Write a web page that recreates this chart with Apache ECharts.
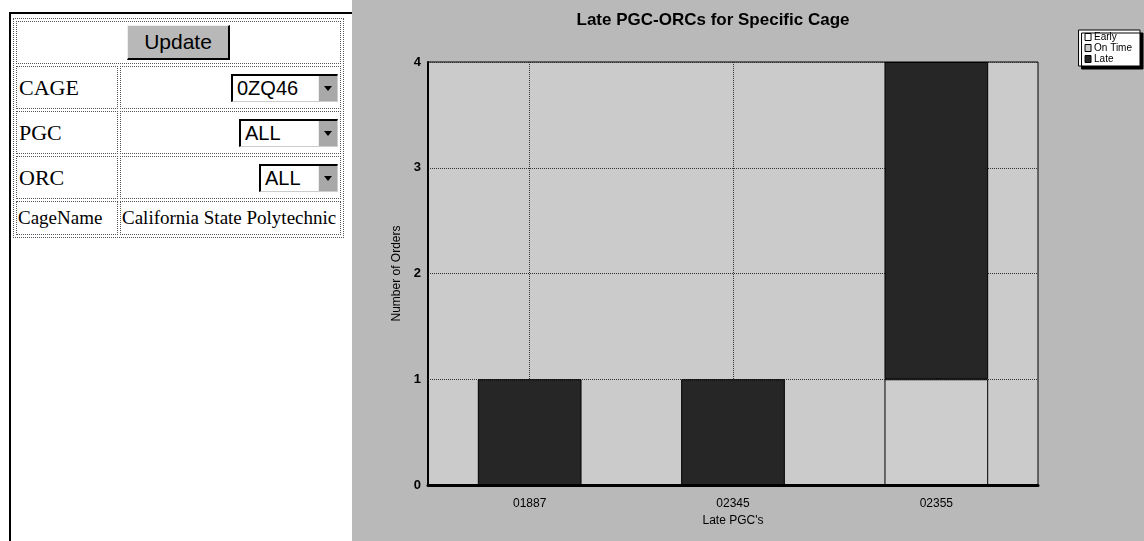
<!DOCTYPE html>
<html><head><meta charset="utf-8">
<script src="https://cdn.jsdelivr.net/npm/echarts@6/dist/echarts.min.js"></script>
<style>
body{margin:0;width:1144px;height:541px;background:#fff;overflow:hidden;position:relative;font-family:"Liberation Serif","Times New Roman",serif;}
#frame{position:absolute;left:9px;top:12px;width:345px;height:540px;border-left:2px solid #000;border-top:2px solid #000;}
#form{position:absolute;left:13px;top:18px;width:331px;border:1px dotted #555;border-collapse:separate;border-spacing:2px;}
#form td{border:1px dotted #555;padding:0 2px;height:41px;font-size:22px;white-space:nowrap;}
#form td.lbl{width:96px;}
#form tr.last td{height:32px;font-size:19px;padding:0 1px;}
.btn{display:inline-block;width:100px;height:32px;line-height:32px;text-align:center;font-family:"Liberation Sans",Arial,sans-serif;font-size:21px;background:#b8b8b8;border-top:1px solid #eee;border-left:1px solid #eee;border-right:2px solid #000;border-bottom:2px solid #000;}
.sel{float:right;position:relative;height:25px;border-top:2px solid #000;border-left:2px solid #000;border-right:1px solid #ccc;border-bottom:1px solid #ccc;background:#fff;font-family:"Liberation Sans",Arial,sans-serif;font-size:20px;line-height:25px;padding-left:4px;box-sizing:content-box;}
.sel .arr{position:absolute;right:0;top:0;width:18px;height:25px;background:#a8a8a8;border-left:1px solid #eee;}
.sel .arr:after{content:"";position:absolute;left:5px;top:10px;border-left:4px solid transparent;border-right:4px solid transparent;border-top:5px solid #000;}
#chart{position:absolute;left:352px;top:0;width:792px;height:541px;}
</style></head>
<body>
<div id="frame"></div>
<table id="form">
<tr><td colspan="2" style="text-align:center;"><span class="btn">Update</span></td></tr>
<tr><td class="lbl">CAGE</td><td><span class="sel" style="width:100px;">0ZQ46<span class="arr"></span></span></td></tr>
<tr><td class="lbl">PGC</td><td><span class="sel" style="width:92px;">ALL<span class="arr"></span></span></td></tr>
<tr><td class="lbl">ORC</td><td><span class="sel" style="width:72px;">ALL<span class="arr"></span></span></td></tr>
<tr class="last"><td class="lbl">CageName</td><td>California State Polytechnic</td></tr>
</table>
<div id="chart"></div>
<script>
const categories = ['01887', '02345', '02355'];
const seriesNames = ['Early', 'On Time', 'Late'];
const earlyValues = [0, 0, 0];
const onTimeValues = [0, 0, 1];
const lateValues = [1, 1, 3];
const yTicks = [0, 1, 2, 3, 4];

const chart = echarts.init(document.getElementById('chart'));
const font = '"Liberation Sans", Arial, sans-serif';
const barBase = {type: 'bar', stack: 'orders', barWidth: '51%', itemStyle: {borderColor: '#000', borderWidth: 1}};
chart.setOption({
  animation: false,
  backgroundColor: '#b9b9b9',
  title: {text: 'Late PGC-ORCs for Specific Cage', left: 356, top: 7, textAlign: 'center',
    textStyle: {fontFamily: font, fontSize: 17, fontWeight: 'bold', color: '#000'}},
  legend: {data: seriesNames, orient: 'vertical', right: 4, top: 30, icon: 'rect', itemWidth: 6, itemHeight: 7, itemGap: 1,
    padding: [2, 8, 2, 6], backgroundColor: '#fff', borderColor: '#000', borderWidth: 1,
    shadowColor: '#000', shadowOffsetX: 3, shadowOffsetY: 3, shadowBlur: 0,
    itemStyle: {borderColor: '#000', borderWidth: 1},
    textStyle: {fontFamily: font, fontSize: 10, color: '#000', padding: [0, 0, 0, -2]}},
  grid: {left: 76, right: 106, top: 62, bottom: 56, show: true, backgroundColor: '#cbcbcb', borderColor: '#000', borderWidth: 1},
  xAxis: {type: 'category', data: categories, name: "Late PGC's", nameLocation: 'middle', nameGap: 30,
    nameTextStyle: {fontFamily: font, fontSize: 12, color: '#000'},
    axisLine: {lineStyle: {color: '#000', width: 3}}, axisTick: {show: false},
    axisLabel: {fontFamily: font, fontSize: 12, color: '#000', margin: 13}},
  yAxis: {type: 'value', min: yTicks[0], max: yTicks[yTicks.length - 1], interval: 1,
    name: 'Number of Orders', nameLocation: 'middle', nameGap: 20,
    nameTextStyle: {fontFamily: font, fontSize: 12, color: '#000'},
    axisLine: {show: true, lineStyle: {color: '#000', width: 2}}, axisTick: {show: false},
    axisLabel: {fontFamily: font, fontSize: 13, fontWeight: 'bold', color: '#000', margin: 7},
    splitLine: {lineStyle: {color: '#333', type: 'dotted', width: 1}}},
  series: [
    Object.assign({}, barBase, {name: seriesNames[0], data: earlyValues, itemStyle: {color: '#ffffff', borderColor: '#000', borderWidth: 1}}),
    Object.assign({}, barBase, {name: seriesNames[1], data: onTimeValues, itemStyle: {color: '#cdcdcd', borderColor: '#000', borderWidth: 1}}),
    Object.assign({}, barBase, {name: seriesNames[2], data: lateValues, itemStyle: {color: '#262626', borderColor: '#000', borderWidth: 1}}),
    {type: 'line', data: lateValues, showSymbol: false, lineStyle: {opacity: 0}, silent: true, z: 1,
      markLine: {z: 1, silent: true, symbol: 'none', label: {show: false},
        lineStyle: {color: '#333', type: 'dotted', width: 1},
        data: categories.map(c => ({xAxis: c}))}}
  ]
});
</script>
</body></html>
